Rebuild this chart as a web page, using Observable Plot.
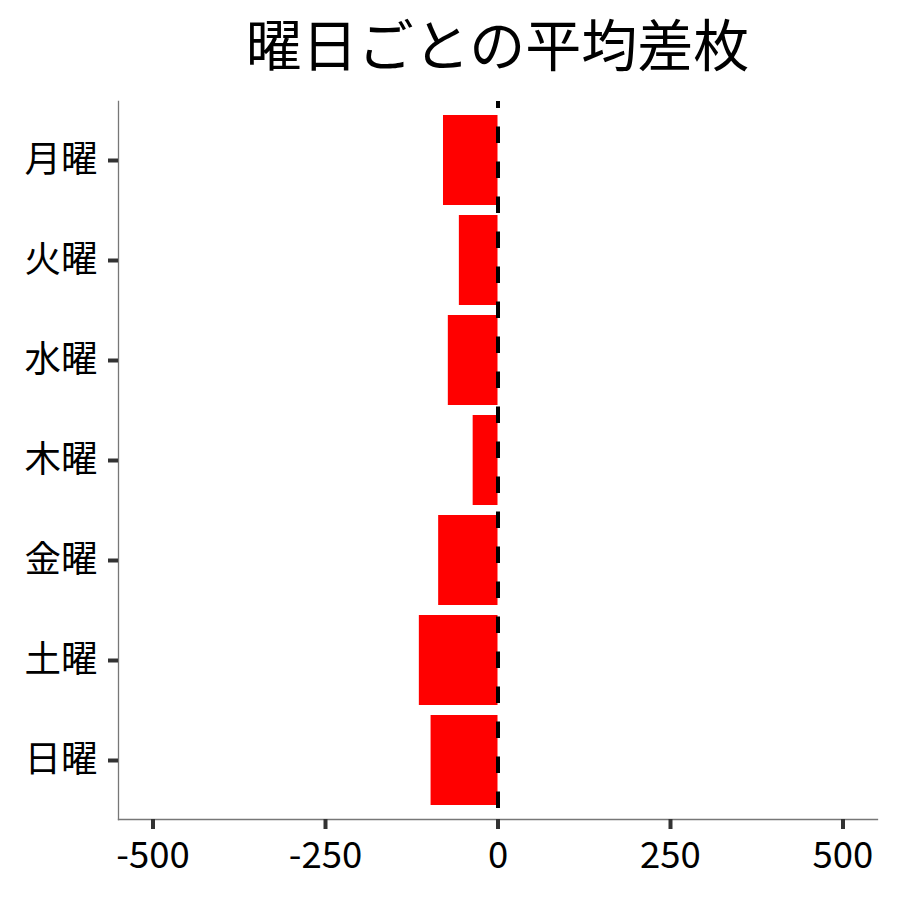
<!DOCTYPE html>
<html>
<head>
<meta charset="utf-8">
<script src="https://cdn.jsdelivr.net/npm/d3@7"></script>
<script src="https://cdn.jsdelivr.net/npm/@observablehq/plot@0.6"></script>
<style>
  html, body { margin: 0; padding: 0; background: #fff; }
  body { width: 900px; height: 900px; font-family: "Noto Sans CJK JP", "Noto Sans", sans-serif; }
  #title {
    box-sizing: border-box;
    width: 900px; height: 90px;
    padding-left: 118px; padding-right: 23px;
    text-align: center;
    font-size: 56px; line-height: 84px;
    color: #000;
    overflow: hidden;
  }
</style>
</head>
<body>
<div id="title">曜日ごとの平均差枚</div>
<div id="chart"></div>
<script>
const days = ["月曜", "火曜", "水曜", "木曜", "金曜", "土曜", "日曜"];
const avgDiff = [-79, -56, -72, -36, -86, -114, -97];
const xTicks = [-500, -250, 0, 250, 500];

const data = days.map((d, i) => ({day: d, value: avgDiff[i]}));

const chart = Plot.plot({
  width: 900,
  height: 810,
  marginTop: 11,
  marginBottom: 81,
  marginLeft: 118,
  marginRight: 23,
  style: {fontFamily: '"Noto Sans CJK JP", "Noto Sans", sans-serif', background: "#fff", color: "#000"},
  x: {domain: [-550, 550]},
  y: {type: "band", domain: days, paddingInner: 0.1, paddingOuter: 0.14, round: false},
  marks: [
    Plot.barX(data, {x: "value", y: "day", fill: "#ff0000"}),
    Plot.ruleX([0], {stroke: "#000", strokeWidth: 4, strokeDasharray: "16.5,18.5", strokeDashoffset: 9.5}),
    Plot.frame({anchor: "left", stroke: "#777", strokeWidth: 1.3}),
    Plot.frame({anchor: "bottom", stroke: "#777", strokeWidth: 1.3}),
    Plot.axisX({ticks: xTicks, tickFormat: d => String(d), tickSize: 10, tickPadding: 13, stroke: "#333", strokeWidth: 4, fontSize: 36.5, fill: "#000", label: null}),
    Plot.axisY({tickSize: 10, tickPadding: 11, stroke: "#333", strokeWidth: 4, fontSize: 36.5, fill: "#000", label: null})
  ]
});
document.getElementById("chart").appendChild(chart);
</script>
</body>
</html>
